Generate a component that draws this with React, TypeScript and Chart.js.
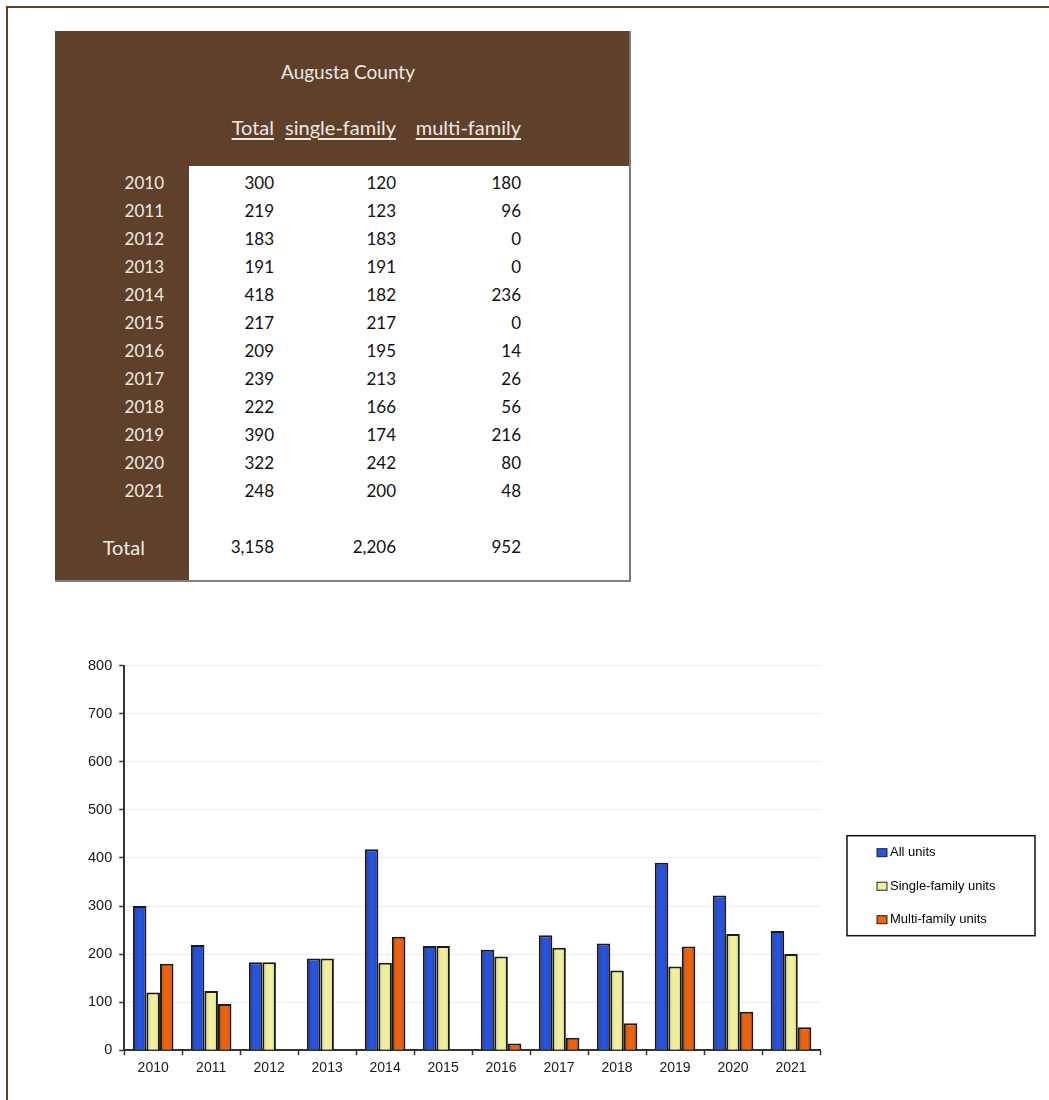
import React, { useEffect, useRef } from "react";
import { Chart, registerables } from "chart.js";

Chart.register(...registerables);

const TITLE = "Augusta County";
const HEADERS = ["Total", "single-family", "multi-family"];
const YEARS = ["2010", "2011", "2012", "2013", "2014", "2015", "2016", "2017", "2018", "2019", "2020", "2021"];
const ALL_UNITS = [300, 219, 183, 191, 418, 217, 209, 239, 222, 390, 322, 248];
const SINGLE_UNITS = [120, 123, 183, 191, 182, 217, 195, 213, 166, 174, 242, 200];
const MULTI_UNITS = [180, 96, 0, 0, 236, 0, 14, 26, 56, 216, 80, 48];
const TOTAL_LABEL = "Total";
const TOTAL_ROW = ["3,158", "2,206", "952"];
const SERIES_LABELS = ["All units", "Single-family units", "Multi-family units"];
const SERIES_COLORS = ["#2753dc", "#efef9f", "#ec620e"];
const SERIES_EDGE = ["#1a3aa8", "#c9c77c", "#c04e08"];
const Y_TICKS = [0, 100, 200, 300, 400, 500, 600, 700, 800];

const BROWN = "#5f402b";
const LIGHT_TEXT = "#efe9e2";
const TABLE_FONT = "Lato, 'Open Sans', sans-serif";
const CHART_FONT = "'Liberation Sans', Arial, sans-serif";
const CAT_PCT = 0.7;

const legendBoxPlugin = {
  id: "legendBox",
  afterDraw(chart: any) {
    const { ctx, chartArea } = chart;
    const x0 = chartArea.right + 27;
    const y0 = chartArea.top + 170;
    const w = 188;
    const h = 100;
    ctx.save();
    ctx.strokeStyle = "#111";
    ctx.lineWidth = 1.5;
    ctx.strokeRect(x0, y0, w, h);
    ctx.font = `13px ${CHART_FONT}`;
    ctx.textBaseline = "middle";
    ctx.textAlign = "left";
    chart.data.datasets.forEach((ds: any, i: number) => {
      const cy = y0 + 17 + i * 33.5;
      ctx.fillStyle = SERIES_COLORS[i];
      ctx.fillRect(x0 + 30, cy - 4, 10, 8);
      ctx.strokeStyle = "#222";
      ctx.lineWidth = 1;
      ctx.strokeRect(x0 + 30, cy - 4, 10, 8);
      ctx.fillStyle = "#000";
      ctx.fillText(ds.label, x0 + 43, cy);
    });
    ctx.restore();
  },
};

function barFill(c: any) {
  const i = c.datasetIndex;
  const chart = c.chart;
  const xs = chart.scales && chart.scales.x;
  if (!chart.chartArea || !xs || c.dataIndex === undefined) return SERIES_COLORS[i];
  const cw = (xs.right - xs.left) / YEARS.length;
  const group = cw * CAT_PCT;
  const bw = group / 3;
  const center = xs.getPixelForValue(c.dataIndex);
  const left = center - group / 2 + i * bw;
  if (!isFinite(left)) return SERIES_COLORS[i];
  const g = chart.ctx.createLinearGradient(left, 0, left + bw, 0);
  g.addColorStop(0, SERIES_EDGE[i]);
  g.addColorStop(0.35, SERIES_COLORS[i]);
  g.addColorStop(0.7, SERIES_COLORS[i]);
  g.addColorStop(1, SERIES_EDGE[i]);
  return g;
}

function BarChart() {
  const ref = useRef<HTMLCanvasElement>(null);
  useEffect(() => {
    if (!ref.current) return;
    const series = [ALL_UNITS, SINGLE_UNITS, MULTI_UNITS];
    const chart = new Chart(ref.current, {
      type: "bar",
      data: {
        labels: YEARS,
        datasets: series.map((vals, i) => ({
          label: SERIES_LABELS[i],
          data: vals,
          backgroundColor: barFill,
          borderColor: "#1a1a1a",
          borderWidth: (c: any) => (c.raw === 0 ? 0 : 2),
          borderSkipped: "bottom",
          categoryPercentage: CAT_PCT,
          barPercentage: 1.0,
        })),
      },
      options: {
        animation: false,
        responsive: true,
        maintainAspectRatio: false,
        layout: { padding: { left: 21, top: 15, right: 225, bottom: 38 } },
        plugins: {
          legend: { display: false },
          tooltip: { enabled: false },
        },
        scales: {
          x: {
            offset: true,
            grid: {
              display: true,
              offset: true,
              drawOnChartArea: false,
              drawTicks: true,
              tickLength: 5,
              tickColor: "#333",
              tickWidth: 1.5,
            },
            border: { display: true, color: "#333", width: 2 },
            ticks: {
              color: "#1a1a1a",
              padding: 5,
              font: { family: CHART_FONT, size: 14 },
            },
          },
          y: {
            min: 0,
            max: 800,
            afterBuildTicks: (axis: any) => {
              axis.ticks = Y_TICKS.map((v) => ({ value: v }));
            },
            grid: {
              color: "#ececec",
              lineWidth: 1,
              tickLength: 5,
              tickColor: "#333",
              tickWidth: 1.5,
            },
            border: { display: true, color: "#333", width: 2 },
            ticks: {
              color: "#1a1a1a",
              padding: 7,
              font: { family: CHART_FONT, size: 14.5 },
            },
          },
        },
      },
      plugins: [legendBoxPlugin],
    });
    return () => chart.destroy();
  }, []);
  return (
    <div style={{ position: "absolute", left: 60, top: 650, width: 985, height: 470 }}>
      <canvas ref={ref} />
    </div>
  );
}

function DataTable() {
  const colRights = [276, 398, 523];
  const left = 55;
  const top = 31;
  const txt = (content: string, x: number, y: number, opts: any = {}) => (
    <div
      style={{
        position: "absolute",
        top: y - top - 13,
        height: 26,
        lineHeight: "26px",
        fontFamily: TABLE_FONT,
        fontSize: opts.size || 17,
        whiteSpace: "nowrap",
        ...(opts.align === "center"
          ? { left: x - left - 200, width: 400, textAlign: "center" }
          : { right: 576 - (x - left), textAlign: "right" }),
        color: opts.color || "#111",
        textDecoration: opts.underline ? "underline" : "none",
        textUnderlineOffset: 3,
      }}
    >
      {content}
    </div>
  );
  return (
    <div
      style={{
        position: "absolute",
        left,
        top,
        width: 576,
        height: 551,
        background: "#fff",
        borderRight: "2px solid #7d7b78",
        borderBottom: "2px solid #8a7d72",
        boxSizing: "border-box",
      }}
    >
      <div style={{ position: "absolute", left: 0, top: 0, width: 574, height: 135, background: BROWN }} />
      <div style={{ position: "absolute", left: 0, top: 0, width: 134, height: 549, background: BROWN }} />
      {txt(TITLE, 348, 72, { align: "center", color: LIGHT_TEXT, size: 19 })}
      {HEADERS.map((h, i) => txt(h, colRights[i], 127, { color: LIGHT_TEXT, underline: true, size: 20 }))}
      {YEARS.map((yr, r) => {
        const y = 182.7 + r * 28;
        const vals = [ALL_UNITS[r], SINGLE_UNITS[r], MULTI_UNITS[r]];
        return (
          <React.Fragment key={yr}>
            {txt(yr, 166, y, { color: LIGHT_TEXT })}
            {vals.map((v, c) => txt(String(v), colRights[c], y))}
          </React.Fragment>
        );
      })}
      {txt(TOTAL_LABEL, 147, 547, { color: LIGHT_TEXT, size: 20 })}
      {TOTAL_ROW.map((v, c) => txt(v, colRights[c], 547))}
    </div>
  );
}

export default function App() {
  return (
    <div>
      <div
        style={{
          position: "absolute",
          left: 6,
          top: 6,
          width: 1043,
          height: 1094,
          borderTop: `2px solid ${BROWN}`,
          borderLeft: `2px solid ${BROWN}`,
          boxSizing: "border-box",
        }}
      />
      <DataTable />
      <BarChart />
    </div>
  );
}
